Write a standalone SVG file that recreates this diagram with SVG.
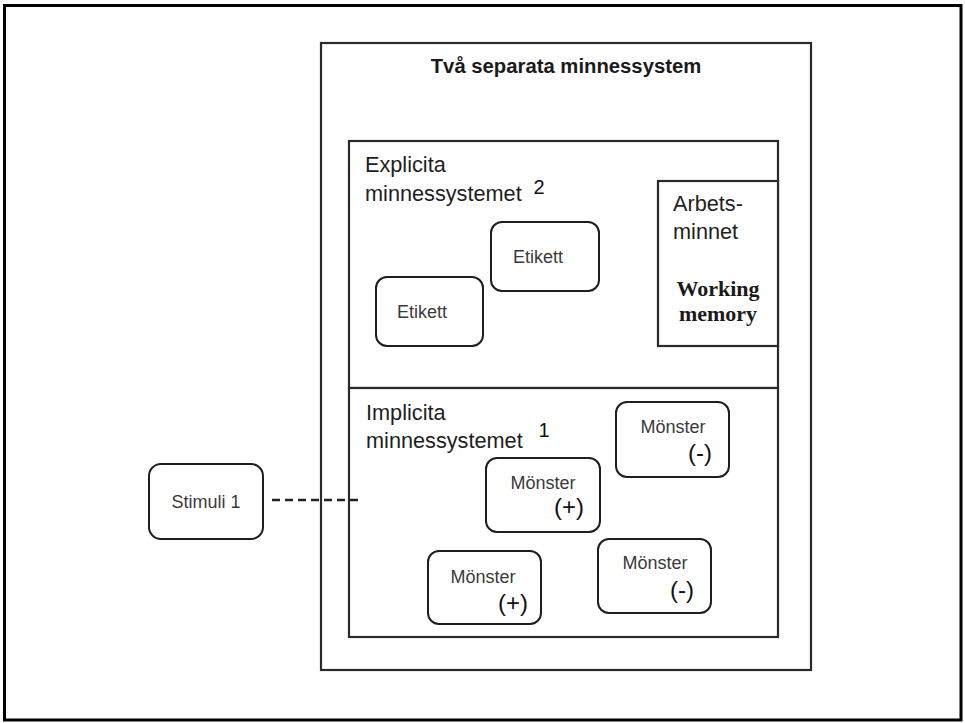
<svg xmlns="http://www.w3.org/2000/svg" width="965" height="723" viewBox="0 0 965 723">
  <style>
    .frame { fill: #ffffff; stroke: #000000; stroke-width: 3; }
    .box { fill: #ffffff; stroke: #2a2a2a; stroke-width: 2.2; }
    .node { fill: #ffffff; stroke: #1e1e1e; stroke-width: 2; }
    .title { font-family: "Liberation Sans", Arial, sans-serif; font-weight: bold; font-size: 20.3px; fill: #1a1a1a; }
    .section { font-family: "Liberation Sans", Arial, sans-serif; font-size: 21.7px; fill: #1e1e1e; }
    .num { font-family: "Liberation Sans", Arial, sans-serif; font-size: 20px; fill: #111111; }
    .label { font-family: "Liberation Sans", Arial, sans-serif; font-size: 18px; fill: #3a3a3a; text-anchor: middle; }
    .sign { font-family: "Liberation Sans", Arial, sans-serif; font-size: 24px; fill: #111111; text-anchor: middle; }
    .serif { font-family: "Liberation Serif", "Times New Roman", serif; font-weight: bold; font-size: 22px; fill: #1a1a1a; text-anchor: middle; }
    .dash { fill: none; stroke: #222222; stroke-width: 2.5; stroke-dasharray: 8 5; }
  </style>

  <!-- page frame -->
  <rect class="frame" x="4.5" y="5.5" width="956.5" height="714.5"/>

  <!-- outer container: two memory systems -->
  <g id="minnessystem">
    <rect class="box" x="321" y="43" width="490" height="627"/>
    <text class="title" x="566" y="73" text-anchor="middle">Två separata minnessystem</text>
  </g>

  <!-- explicit memory system -->
  <g id="explicita">
    <rect class="box" x="349" y="141" width="429" height="247"/>
    <text class="section" x="365" y="172">Explicita</text>
    <text class="section" x="365" y="201">minnessystemet</text>
    <text class="num" x="539" y="194" text-anchor="middle">2</text>
  </g>

  <!-- working memory -->
  <g id="arbetsminnet">
    <rect class="box" x="658" y="181" width="120" height="165"/>
    <text class="section" x="673" y="211">Arbets-</text>
    <text class="section" x="673" y="239">minnet</text>
    <text class="serif" x="718" y="296">Working</text>
    <text class="serif" x="718" y="321">memory</text>
  </g>

  <g id="etikett-1">
    <rect class="node" x="491" y="222" width="108" height="69" rx="11"/>
    <text class="label" x="538" y="263">Etikett</text>
  </g>

  <g id="etikett-2">
    <rect class="node" x="376" y="277" width="107" height="69" rx="11"/>
    <text class="label" x="422" y="318">Etikett</text>
  </g>

  <!-- implicit memory system -->
  <g id="implicita">
    <rect class="box" x="349" y="388" width="429" height="249"/>
    <text class="section" x="366" y="420">Implicita</text>
    <text class="section" x="366" y="448">minnessystemet</text>
    <text class="num" x="544" y="437" text-anchor="middle">1</text>
  </g>

  <g id="monster-1">
    <rect class="node" x="616" y="402" width="113" height="75" rx="11"/>
    <text class="label" x="673" y="433">Mönster</text>
    <text class="sign" x="700" y="461">(-)</text>
  </g>

  <g id="monster-2">
    <rect class="node" x="486" y="458" width="114" height="74" rx="11"/>
    <text class="label" x="543" y="489">Mönster</text>
    <text class="sign" x="569" y="515">(+)</text>
  </g>

  <g id="monster-3">
    <rect class="node" x="428" y="551" width="113" height="73" rx="11"/>
    <text class="label" x="483" y="583">Mönster</text>
    <text class="sign" x="513" y="611">(+)</text>
  </g>

  <g id="monster-4">
    <rect class="node" x="598" y="539" width="113" height="74" rx="11"/>
    <text class="label" x="655" y="569">Mönster</text>
    <text class="sign" x="682" y="598">(-)</text>
  </g>

  <!-- stimulus -->
  <g id="stimuli-1">
    <rect class="node" x="149" y="464" width="114" height="75" rx="12"/>
    <text class="label" x="206" y="508">Stimuli 1</text>
  </g>

  <!-- connectors: drawn from the inner end so a dash meets the implicit box -->
  <g id="connectors">
    <line class="dash" x1="358" y1="500" x2="268" y2="500"/>
  </g>
</svg>
